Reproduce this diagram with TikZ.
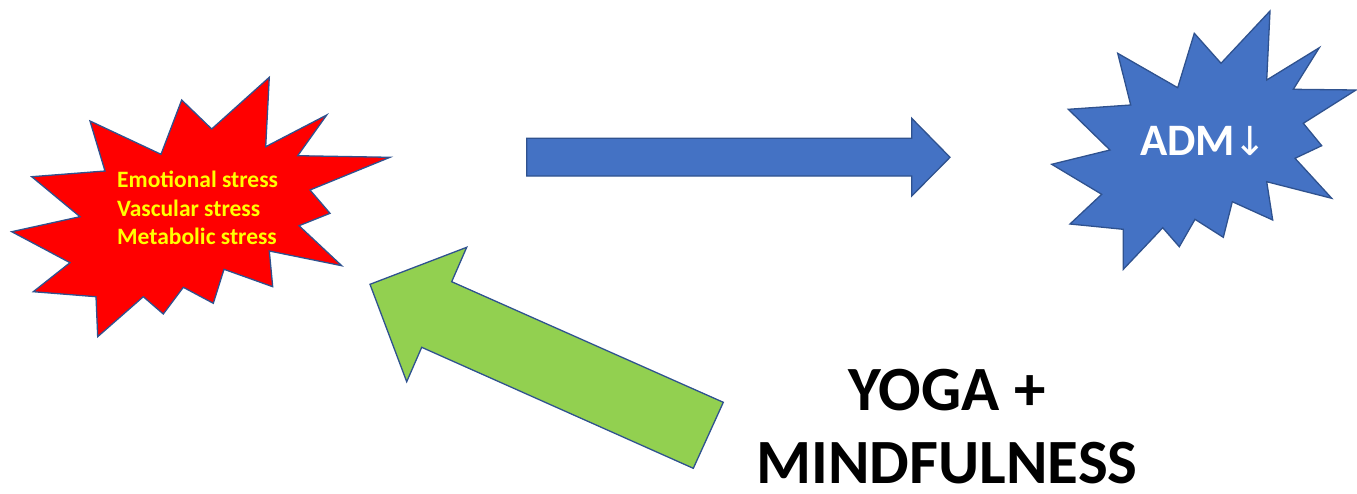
\documentclass[tikz,border=0pt]{standalone}
\usepackage{fontspec}
\setmainfont{Carlito}
\newfontfamily\arrfont{DejaVu Sans}
\begin{document}
\begin{tikzpicture}[x=1pt,y=-1pt,
  outl/.style={draw=outblue,line width=1.3pt,line join=miter},
  lbl/.style={inner sep=0pt,font=\bfseries}]
\definecolor{outblue}{HTML}{2F528F}
\definecolor{starblue}{HTML}{4472C4}
\definecolor{leafgreen}{HTML}{92D050}
\definecolor{txtyellow}{HTML}{FFFF00}
\useasboundingbox (0,0) rectangle (1357,493);
% red star
\filldraw[outl,fill=red] (11.7,231.7) -- (80,216.7) -- (31.7,176.7) -- (105,171) -- (90,121) -- (161,154.3) -- (181.7,100) -- (211.7,129) -- (269.3,77.3) -- (265.7,146.7) -- (326.7,115) -- (297.7,155.7) -- (390,157.3) -- (310,190) -- (330,213.3) -- (299,225.7) -- (341.7,265.7) -- (269.3,251) -- (272.7,286.7) -- (224,269.3) -- (213.3,303.3) -- (183.3,287.3) -- (163.3,314) -- (143.3,296.7) -- (97.7,336.7) -- (96,296.7) -- (33.3,291.7) -- (70,262.7) -- cycle;
% blue star
\filldraw[outl,fill=starblue] (1051.7,164.3) -- (1110,150) -- (1068.3,109.3) -- (1130.7,105) -- (1117.7,53.3) -- (1177.7,87.7) -- (1194.3,33.3) -- (1221,63.3) -- (1270,11) -- (1266.7,80) -- (1319.3,47.7) -- (1293.3,89.3) -- (1356,90) -- (1303.3,123.3) -- (1321.7,145.7) -- (1295,158.3) -- (1331.7,198.3) -- (1266.7,181.7) -- (1272.7,220) -- (1232.3,201.7) -- (1223.3,237.3) -- (1195,219.3) -- (1179.3,246.7) -- (1162.7,227.7) -- (1123.3,269.3) -- (1123.3,229.3) -- (1070,224) -- (1101.7,194.3) -- cycle;
% blue block arrow
\filldraw[outl,fill=starblue] (526.7,138.3) -- (911.7,138.3) -- (911.7,118.3) -- (950,157.3) -- (911.7,196) -- (911.7,176) -- (526.7,176) -- cycle;
% green block arrow
\filldraw[outl,fill=leafgreen] (370,284.3) -- (466.7,247.3) -- (451.7,281.7) -- (723.3,402.3) -- (693.3,468.3) -- (421.7,347.3) -- (406.7,381.7) -- cycle;
% texts (base anchor = baseline of last line)
\node[lbl,anchor=base west,align=left,text=txtyellow,font=\bfseries\fontsize{23.5}{28.4}\selectfont] (stress) at (117,244.5) {Emotional stress\\Vascular stress\\Metabolic stress};
\node[lbl,anchor=base west,text=white,font=\bfseries\fontsize{45}{52}\selectfont] (adm) at (1140,155) {ADM\kern-2pt{\arrfont\mdseries\fontsize{40}{44}\selectfont ↓}};
\node[lbl,anchor=base,align=center,text=black,font=\bfseries\fontsize{63}{73.3}\selectfont] (yoga) at (947,483.3) {YOGA +\\MINDFULNESS};
\end{tikzpicture}
\end{document}
